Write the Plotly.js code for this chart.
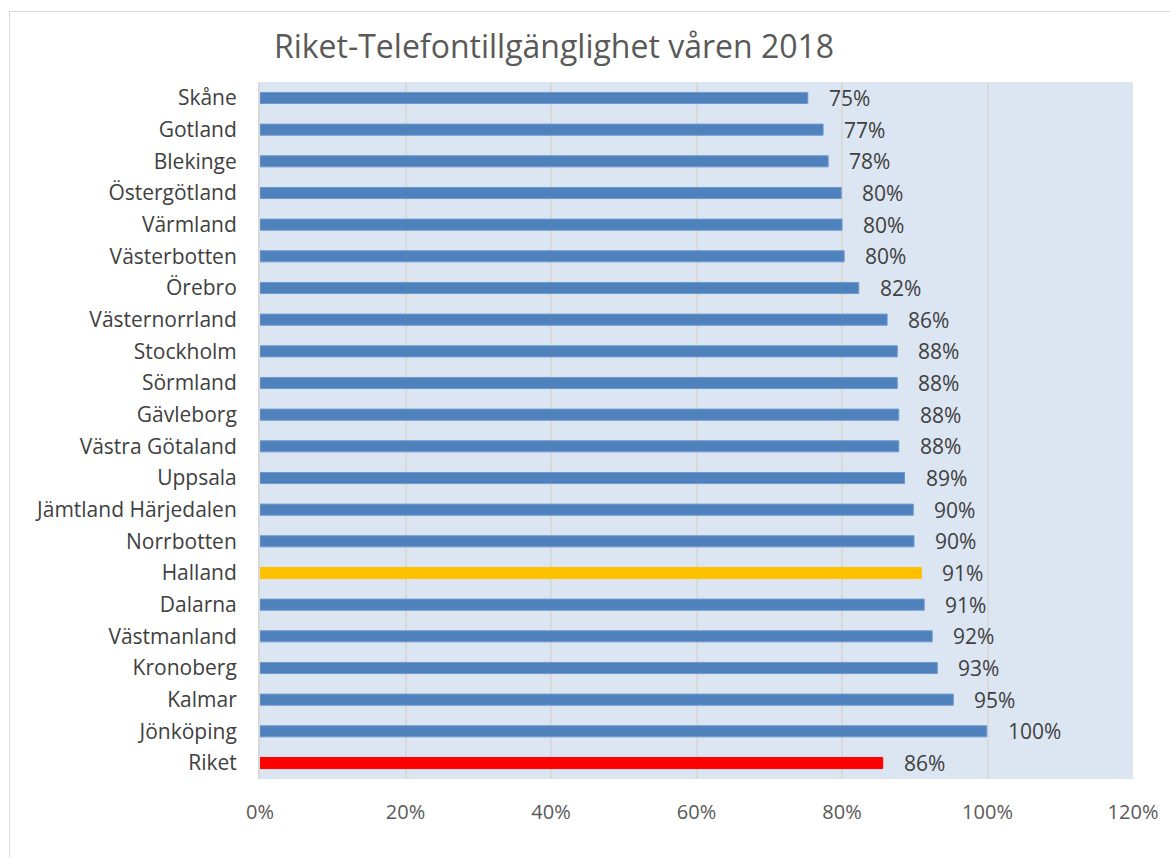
<!DOCTYPE html>
<html>
<head>
<meta charset="utf-8">
<script src="https://cdn.plot.ly/plotly-3.0.1.min.js"></script>
<style>
  html, body { margin: 0; padding: 0; background: #ffffff; overflow: hidden; }
  #chart { width: 1170px; height: 857px; position: absolute; left: 0; top: 0; }
  #frame { position: absolute; left: 9px; top: 11px; width: 1300px; height: 1000px;
           border: 1px solid #d9d9d9; pointer-events: none; box-sizing: border-box; }
</style>
</head>
<body>
<div id="chart"></div>
<div id="frame"></div>
<script>
const categories = ["Skåne", "Gotland", "Blekinge", "Östergötland", "Värmland", "Västerbotten",
  "Örebro", "Västernorrland", "Stockholm", "Sörmland", "Gävleborg", "Västra Götaland",
  "Uppsala", "Jämtland Härjedalen", "Norrbotten", "Halland", "Dalarna", "Västmanland",
  "Kronoberg", "Kalmar", "Jönköping", "Riket"];
const values = [75.3, 77.4, 78.1, 79.9, 80.0, 80.3, 82.3, 86.2, 87.6, 87.6, 87.8, 87.8,
  88.6, 89.8, 89.9, 90.9, 91.3, 92.4, 93.1, 95.3, 99.9, 85.6];
const labels = ["75%", "77%", "78%", "80%", "80%", "80%", "82%", "86%", "88%", "88%", "88%", "88%",
  "89%", "90%", "90%", "91%", "91%", "92%", "93%", "95%", "100%", "86%"];
const highlight = {"Halland": "#ffc000", "Riket": "#ff0000"};
const tickVals = [0, 20, 40, 60, 80, 100, 120];
const tickText = ["0%", "20%", "40%", "60%", "80%", "100%", "120%"];

const colors = categories.map(c => highlight[c] || "#4f81bd");
const lineColors = categories.map(c => highlight[c] || "#6f98cc");

const trace = {
  type: "bar",
  orientation: "h",
  x: values,
  y: categories,
  width: 0.35,
  marker: { color: colors, line: { color: lineColors, width: 1 } },
  hoverinfo: "none"
};

const annotations = categories.map((c, i) => ({
  x: values[i], y: c, xref: "x", yref: "y",
  text: labels[i], showarrow: false,
  xanchor: "left", yanchor: "middle", xshift: 19,
  font: { family: "Open Sans", size: 21, color: "#404040" }
}));

const layout = {
  width: 1170, height: 857,
  margin: { l: 260, r: 37, t: 82, b: 78, pad: 0 },
  paper_bgcolor: "#ffffff",
  plot_bgcolor: "#dce6f2",
  showlegend: false,
  title: {
    text: "Riket-Telefontillgänglighet våren 2018",
    font: { family: "Open Sans", size: 32, color: "#595959" },
    x: 554 / 1170, xref: "container", xanchor: "center",
    y: 1 - 47 / 857, yref: "container", yanchor: "middle"
  },
  xaxis: {
    range: [0, 120],
    tickvals: tickVals, ticktext: tickText,
    showgrid: true, gridcolor: "#d9d9d9", gridwidth: 2,
    zeroline: false, showline: false, ticks: "",
    ticklabelstandoff: 19,
    tickfont: { family: "Open Sans", size: 20, color: "#595959" },
    fixedrange: true
  },
  yaxis: {
    autorange: "reversed",
    showgrid: false, zeroline: false, ticks: "",
    showline: true, linecolor: "#d9d9d9", linewidth: 2,
    ticklabelstandoff: 17,
    tickfont: { family: "Open Sans", size: 21, color: "#404040" },
    fixedrange: true
  },
  annotations: annotations
};

Plotly.newPlot("chart", [trace], layout, { displayModeBar: false, staticPlot: true });
</script>
</body>
</html>
